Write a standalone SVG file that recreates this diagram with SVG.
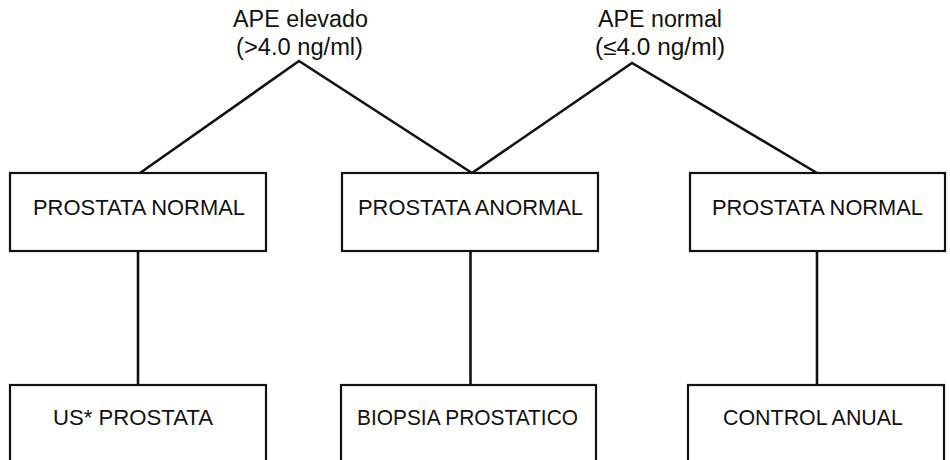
<svg xmlns="http://www.w3.org/2000/svg" width="950" height="460" viewBox="0 0 950 460">
<style>
.box{fill:#fff;stroke:#111;stroke-width:2.2}
.t{font-family:"Liberation Sans",Arial,sans-serif;font-size:21.5px;fill:#111;text-anchor:middle}
.lab{font-family:"Liberation Sans",Arial,sans-serif;font-size:23px;fill:#111;text-anchor:middle}
.c{fill:none;stroke:#111;stroke-width:2.6;stroke-linejoin:miter}
</style>
<rect width="950" height="460" fill="#fff"/>
<g id="labels">
<text class="lab" x="300.5" y="27" textLength="135" lengthAdjust="spacingAndGlyphs">APE elevado</text>
<text class="lab" x="299.5" y="55" textLength="127" lengthAdjust="spacingAndGlyphs">(&gt;4.0 ng/ml)</text>
<text class="lab" x="660" y="27" textLength="124" lengthAdjust="spacingAndGlyphs">APE normal</text>
<text class="lab" x="660" y="55" textLength="130" lengthAdjust="spacingAndGlyphs">(≤4.0 ng/ml)</text>
</g>
<g id="connectors">
<polyline class="c" points="140,173 299,61 472,173"/>
<polyline class="c" points="472,173 632,63 817,173"/>
<line class="c" x1="138" y1="251" x2="138" y2="385"/>
<line class="c" x1="470.5" y1="251" x2="470.5" y2="385"/>
<line class="c" x1="817" y1="251" x2="817" y2="385"/>
</g>
<g id="n1">
<rect class="box" x="10" y="173" width="256" height="78"/>
<text class="t" x="139" y="215" textLength="212" lengthAdjust="spacingAndGlyphs">PROSTATA NORMAL</text>
</g>
<g id="n2">
<rect class="box" x="342" y="173" width="256" height="78"/>
<text class="t" x="470.5" y="215" textLength="225" lengthAdjust="spacingAndGlyphs">PROSTATA ANORMAL</text>
</g>
<g id="n3">
<rect class="box" x="690" y="173" width="255" height="78"/>
<text class="t" x="817.5" y="215" textLength="211" lengthAdjust="spacingAndGlyphs">PROSTATA NORMAL</text>
</g>
<g id="n4">
<rect class="box" x="10" y="385" width="256" height="90"/>
<text class="t" x="133" y="425" textLength="160" lengthAdjust="spacingAndGlyphs">US* PROSTATA</text>
</g>
<g id="n5">
<rect class="box" x="341" y="385" width="255" height="90"/>
<text class="t" x="467.5" y="425" textLength="221" lengthAdjust="spacingAndGlyphs">BIOPSIA PROSTATICO</text>
</g>
<g id="n6">
<rect class="box" x="688" y="385" width="256" height="90"/>
<text class="t" x="813" y="425" textLength="180" lengthAdjust="spacingAndGlyphs">CONTROL ANUAL</text>
</g>
</svg>
